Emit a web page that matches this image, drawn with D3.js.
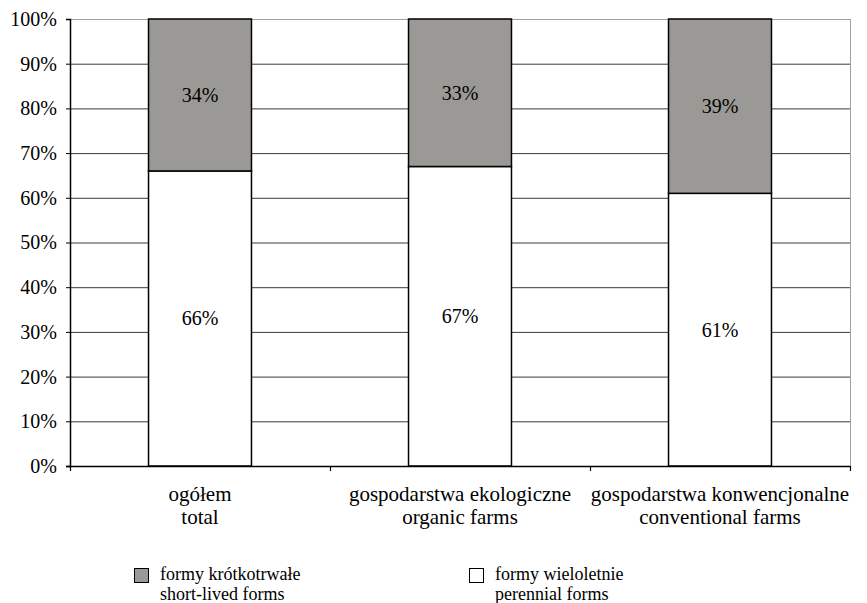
<!DOCTYPE html>
<html>
<head>
<meta charset="utf-8">
<script src="https://cdn.jsdelivr.net/npm/d3@7"></script>
<style>
  html, body { margin: 0; padding: 0; background: #fff; }
  svg { display: block; }
</style>
</head>
<body>
<svg id="chart" width="867" height="603"></svg>
<script>
// Categories (two-line labels: Polish / English)
const categories = ["ogółem", "gospodarstwa ekologiczne", "gospodarstwa konwencjonalne"];
const categoriesEn = ["total", "organic farms", "conventional farms"];

// Shares in percent
const perennial = [66, 67, 61];   // formy wieloletnie / perennial forms
const shortLived = [34, 33, 39];  // formy krótkotrwałe / short-lived forms

const yTicks = [0, 10, 20, 30, 40, 50, 60, 70, 80, 90, 100];

const seriesNames = [
  { key: "shortLived", pl: "formy krótkotrwałe", en: "short-lived forms", fill: "#9a9995" },
  { key: "perennial", pl: "formy wieloletnie", en: "perennial forms", fill: "#ffffff" }
];

const rows = categories.map((c, i) => ({ cat: c, perennial: perennial[i], shortLived: shortLived[i] }));
const stack = d3.stack().keys(["perennial", "shortLived"]);
const layers = stack(rows);
const fills = { perennial: "#ffffff", shortLived: "#9a9995" };

const SERIF = "Liberation Serif";
const FONT = 20;
const svg = d3.select("#chart").attr("font-family", SERIF);
const plotLeft = 70, plotRight = 850, plotTop = 19, plotBottom = 466;

const x = d3.scaleBand().domain(categories).range([plotLeft, plotRight]).paddingInner(0.604).paddingOuter(0.302);
const xOuter = d3.scaleBand().domain(categories).range([plotLeft, plotRight]).padding(0);
const y = d3.scaleLinear().domain([0, 100]).range([plotBottom, plotTop]);

// Horizontal gridlines
svg.append("g").selectAll("line").data(yTicks.filter(t => t > 0)).join("line")
  .attr("x1", plotLeft).attr("x2", plotRight)
  .attr("y1", d => y(d) + 0.5).attr("y2", d => y(d) + 0.5)
  .attr("stroke", d => d === 100 ? "#a0a0a0" : "#3a3a3a")
  .attr("stroke-width", 1);

// Right frame edge
svg.append("line")
  .attr("x1", plotRight + 0.5).attr("x2", plotRight + 0.5)
  .attr("y1", plotTop).attr("y2", plotBottom)
  .attr("stroke", "#a0a0a0").attr("stroke-width", 1);

// Stacked bars
const layerG = svg.append("g").selectAll("g").data(layers).join("g")
  .attr("fill", d => fills[d.key]);
layerG.selectAll("rect").data(d => d).join("rect")
  .attr("x", d => x(d.data.cat))
  .attr("width", x.bandwidth())
  .attr("y", d => y(d[1]))
  .attr("height", d => y(d[0]) - y(d[1]))
  .attr("stroke", "#000")
  .attr("stroke-width", 1.5);

// Segment value labels
layerG.selectAll("text").data(d => d.map(v => ({ v, key: d.key }))).join("text")
  .attr("x", d => x(d.v.data.cat) + x.bandwidth() / 2)
  .attr("y", d => y((d.v[0] + d.v[1]) / 2))
  .attr("dy", "0.35em")
  .attr("text-anchor", "middle")
  .attr("fill", "#000")
  .attr("font-family", SERIF)
  .attr("font-size", FONT)
  .text(d => (d.v[1] - d.v[0]) + "%");

// Y axis
const yAxis = d3.axisLeft(y).tickValues(yTicks).tickFormat(d => d + "%").tickSize(4).tickPadding(9);
const gy = svg.append("g").attr("transform", `translate(${plotLeft},0)`).call(yAxis)
  .attr("font-family", SERIF).attr("font-size", FONT);
gy.select(".domain").attr("stroke", "#000").attr("stroke-width", 1.5);
gy.selectAll(".tick line").attr("stroke", "#000");
gy.selectAll(".tick text").attr("font-family", SERIF).attr("font-size", FONT).attr("fill", "#000");

// X axis baseline and category boundary ticks
svg.append("line")
  .attr("x1", plotLeft - 4).attr("x2", plotRight)
  .attr("y1", plotBottom + 0.5).attr("y2", plotBottom + 0.5)
  .attr("stroke", "#000").attr("stroke-width", 1.5);
const bounds = [plotLeft].concat(categories.map(c => xOuter(c) + xOuter.bandwidth()));
svg.append("g").selectAll("line").data(bounds).join("line")
  .attr("x1", d => d + 0.5).attr("x2", d => d + 0.5)
  .attr("y1", plotBottom).attr("y2", plotBottom + 5)
  .attr("stroke", "#000").attr("stroke-width", 1.2);

// Category labels
const catG = svg.append("g").attr("font-family", SERIF).attr("font-size", 21).attr("fill", "#000")
  .selectAll("g").data(categories).join("g");
catG.append("text").attr("text-anchor", "middle")
  .attr("x", d => xOuter(d) + xOuter.bandwidth() / 2).attr("y", 501).text(d => d);
catG.append("text").attr("text-anchor", "middle")
  .attr("x", d => xOuter(d) + xOuter.bandwidth() / 2).attr("y", 524)
  .text((d, i) => categoriesEn[i]);

// Legend
const legendX = [134, 469];
const leg = svg.append("g").attr("font-family", SERIF).selectAll("g").data(seriesNames).join("g")
  .attr("transform", (d, i) => `translate(${legendX[i]},568)`);
leg.append("rect")
  .attr("x", 0.5).attr("y", 0.5).attr("width", 14).attr("height", 14)
  .attr("fill", d => d.fill).attr("stroke", "#000").attr("stroke-width", 1);
const legText = leg.append("g").attr("font-size", 18).attr("fill", "#000");
legText.append("text").attr("x", 26).attr("y", 11.5).text(d => d.pl);
legText.append("text").attr("x", 26).attr("y", 31.5).text(d => d.en);
</script>
</body>
</html>
